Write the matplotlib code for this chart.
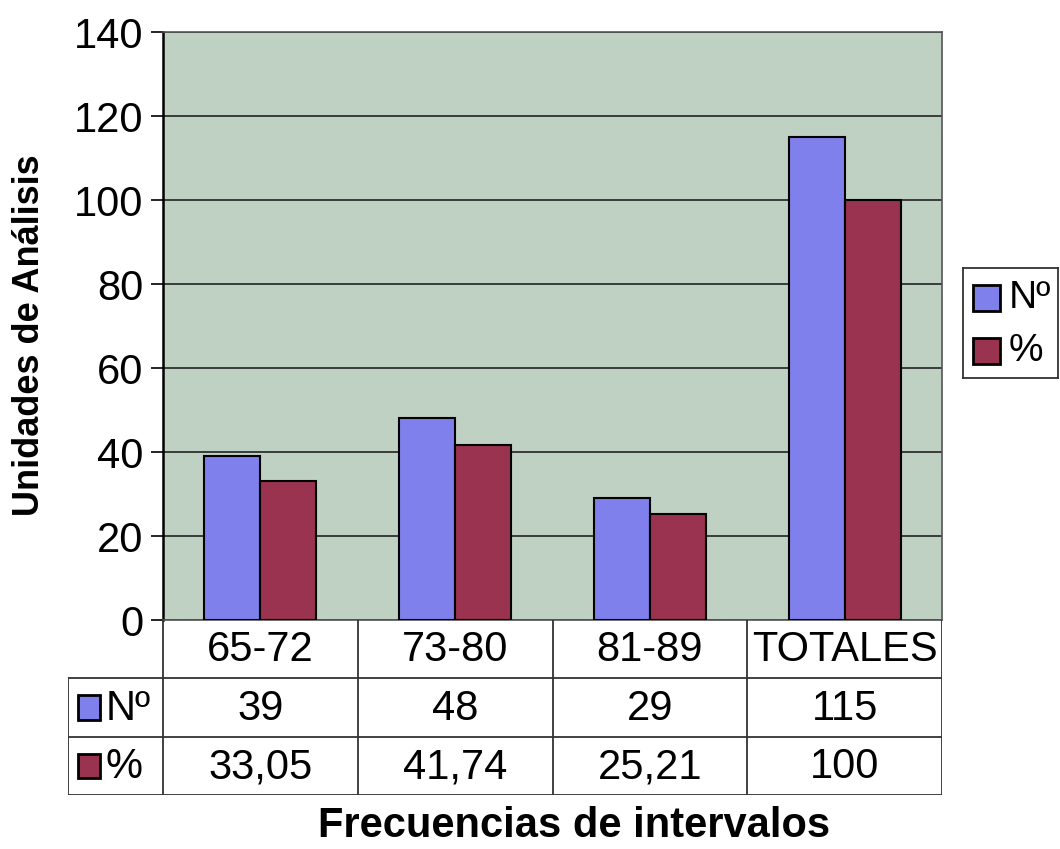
import matplotlib.pyplot as plt
from matplotlib.patches import Rectangle
import numpy as np

categorias = ["65-72", "73-80", "81-89", "TOTALES"]
numero = [39, 48, 29, 115]
porcentaje = [33.05, 41.74, 25.21, 100]
etiquetas_num = ["39", "48", "29", "115"]
etiquetas_pct = ["33,05", "41,74", "25,21", "100"]
series = ["Nº", "%"]

azul = "#8080ec"
granate = "#993350"
fondo = "#bfd1c3"

plt.rcParams['font.family'] = ['Liberation Sans', 'DejaVu Sans']

W, H = 1060, 849
fig = plt.figure(figsize=(W / 100, H / 100), dpi=100)

def caja(x0, y0, x1, y1):
    # pixel box -> figure fraction
    return [x0 / W, 1 - y1 / H, (x1 - x0) / W, (y1 - y0) / H]

# grafico principal
ax = fig.add_axes(caja(163, 32, 942, 620))
ax.set_facecolor(fondo)
x = np.arange(len(categorias)) + 0.5
w = 0.2875
ax.bar(x - w / 2, numero, w, color=azul, edgecolor="black", linewidth=1.5, zorder=3)
ax.bar(x + w / 2, porcentaje, w, color=granate, edgecolor="black", linewidth=1.5, zorder=3)
ax.set_xlim(0, 4)
ax.set_ylim(0, 140)
ax.set_yticks(np.arange(0, 141, 20))
ax.yaxis.grid(True, color="#303030", linewidth=1.3, zorder=1)
ax.set_xticks([])
ax.tick_params(axis="y", labelsize=30, length=9, width=1.2, pad=5)
for s in ax.spines.values():
    s.set_color("#555555")
    s.set_linewidth(1.2)
ax.spines["left"].set_color("black")
ax.spines["left"].set_linewidth(1.8)
fig.text(30 / W, 1 - 335 / H, "Unidades de Análisis", rotation=90,
         ha="center", va="center", fontsize=26, fontweight="bold")

# tabla de datos
w0 = (163 - 68) / 194.75
tb = fig.add_axes(caja(68, 620, 942, 795))
tb.set_xlim(-w0, 4)
tb.set_ylim(0, 3)
tb.axis("off")
lc = dict(color="#333333", linewidth=1.3)
for xi in range(5):
    tb.plot([xi, xi], [0, 3], **lc)
tb.plot([-w0, -w0], [0, 2], **lc)
for yi in [0, 1, 2]:
    tb.plot([-w0, 4], [yi, yi], **lc)
for i, c in enumerate(categorias):
    tb.text(i + 0.5, 2.48, c, ha="center", va="center", fontsize=30)
    tb.text(i + 0.5, 1.48, etiquetas_num[i], ha="center", va="center", fontsize=30)
    tb.text(i + 0.5, 0.48, etiquetas_pct[i], ha="center", va="center", fontsize=30)
for j, (nombre, col) in enumerate(zip(series, [azul, granate])):
    yc = 1.5 - j
    tb.add_patch(Rectangle((-w0 + 0.05, yc - 0.21), 0.115, 0.42, facecolor=col,
                           edgecolor="black", linewidth=2))
    tb.text(-w0 + 0.195, yc - 0.02, nombre, ha="left", va="center", fontsize=30)

fig.text(574 / W, 1 - 826 / H, "Frecuencias de intervalos",
         ha="center", va="center", fontsize=30, fontweight="bold")

# leyenda
lg = fig.add_axes(caja(963, 268, 1058, 378))
lg.set_xlim(0, 1)
lg.set_ylim(0, 1)
lg.set_xticks([])
lg.set_yticks([])
for s in lg.spines.values():
    s.set_color("#333333")
    s.set_linewidth(1.3)
for j, (nombre, col) in enumerate(zip(series, [azul, granate])):
    yc = 0.727 - j * 0.482
    lg.add_patch(Rectangle((0.105, yc - 0.122), 0.285, 0.245, facecolor=col,
                           edgecolor="black", linewidth=2))
    lg.text(0.48, yc, nombre, ha="left", va="center", fontsize=28)

fig.savefig("out.png", dpi=100)
